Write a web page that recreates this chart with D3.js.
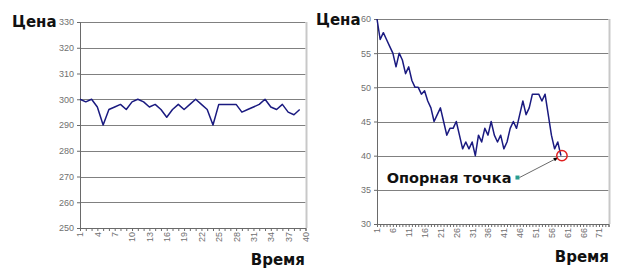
<!DOCTYPE html>
<meta charset="utf-8">
<style>
body { margin: 0; background: #fff; }
svg { display: block; }
.tick text { font-family: "Liberation Sans", Arial, sans-serif; font-size: 9px; fill: #707070; }
.title { font-family: "DejaVu Sans", Verdana, sans-serif; font-weight: bold; font-size: 15px; fill: #111; }
.grid line { stroke: #808080; stroke-width: 1.2; }
.price { fill: none; stroke: #1a1a80; stroke-width: 1.5; stroke-linejoin: round; }
</style>
<body>
<script src="https://cdn.jsdelivr.net/npm/d3@7"></script>
<script>

// ---------- data ----------
var leftTimes = d3.range(1, 41)
var leftTickLabels = [1, 4, 7, 10, 13, 16, 19, 22, 25, 28, 31, 34, 37, 40]
var leftYTicks = [250, 260, 270, 280, 290, 300, 310, 320, 330]
var leftPrices = [300, 299, 300, 297, 290, 296, 297, 298, 296, 299,
                  300, 299, 297, 298, 296, 293, 296, 298, 296, 298,
                  300, 298, 296, 290, 298, 298, 298, 298, 295, 296,
                  297, 298, 300, 297, 296, 298, 295, 294, 296]

var rightTimes = d3.range(1, 75)
var rightTickLabels = [1, 6, 11, 16, 21, 26, 31, 36, 41, 46, 51, 56, 61, 66, 71]
var rightYTicks = [30, 35, 40, 45, 50, 55, 60]
var rightPrices = [60, 57, 58, 57, 56, 55, 53, 55, 54, 52,
                   53, 51, 50, 50, 49, 49.5, 48, 47, 45, 46,
                   47, 45, 43, 44, 44, 45, 43, 41, 42, 41,
                   42, 40, 43, 42, 44, 43, 45, 43, 42, 43,
                   41, 42, 44, 45, 44, 46, 48, 46, 47, 49,
                   49, 49, 48, 49, 46, 43, 41, 42, 40]

var pivot = { time: 59, price: 40 }
var pivotLabel = { time: 45.3, price: 36.8, text: 'Опорная точка' }

// ---------- page ----------
var W = 625, H = 279
var svg = d3.select('body').append('svg').attr('width', W).attr('height', H)

svg.append('defs').append('marker')
    .attr('id', 'arrow')
    .attr('viewBox', '0 0 10 10')
    .attr('refX', 9).attr('refY', 5)
    .attr('markerWidth', 7).attr('markerHeight', 6)
    .attr('orient', 'auto')
  .append('path')
    .attr('d', 'M0,1 L10,5 L0,9 Z')
    .attr('fill', '#000')

function drawChart(opt) {
    var x = d3.scalePoint().domain(opt.times).range([opt.x0, opt.x1])
    var y = d3.scaleLinear().domain(d3.extent(opt.yTicks)).range([opt.y1, opt.y0])
    var g = svg.append('g')

    // gridlines
    g.append('g').attr('class', 'grid')
      .selectAll('line').data(opt.yTicks.slice(1)).enter().append('line')
        .attr('x1', opt.x0).attr('x2', opt.x1)
        .attr('y1', function (d) { return Math.round(y(d)) + 0.5 })
        .attr('y2', function (d) { return Math.round(y(d)) + 0.5 })

    // right border of plot area
    g.append('line')
        .attr('x1', opt.x1 + 1).attr('x2', opt.x1 + 1)
        .attr('y1', opt.y0).attr('y2', opt.y1)
        .attr('stroke', '#c8c8c8').attr('stroke-width', 2)

    // y axis
    var yAxis = g.append('g')
        .attr('transform', 'translate(' + opt.x0 + ',0)')
        .call(d3.axisLeft(y).tickValues(opt.yTicks).tickSize(3).tickPadding(3))
    yAxis.select('.domain').attr('stroke', '#6a6a6a')
    yAxis.selectAll('.tick line').attr('stroke', '#6a6a6a')

    // x axis: minor ticks every category, labels every few
    var xMinor = g.append('g')
        .attr('transform', 'translate(0,' + opt.y1 + ')')
        .call(d3.axisBottom(x).tickValues(opt.times).tickSize(3).tickFormat(''))
    xMinor.select('.domain').attr('stroke', '#6a6a6a')
    xMinor.selectAll('.tick line').attr('stroke', '#6a6a6a')

    var xLabels = g.append('g')
        .attr('transform', 'translate(0,' + opt.y1 + ')')
        .call(d3.axisBottom(x).tickValues(opt.tickLabels).tickSize(0))
    xLabels.select('.domain').remove()
    xLabels.selectAll('.tick text')
        .attr('transform', 'rotate(-90)')
        .attr('text-anchor', 'end')
        .attr('x', -4).attr('y', 0).attr('dy', '0.32em')

    // price line
    var line = d3.line()
        .x(function (d, i) { return x(opt.times[i]) })
        .y(function (d) { return y(d) })
    g.append('path').datum(opt.prices).attr('class', 'price').attr('d', line)

    // titles
    g.append('text').attr('class', 'title')
        .attr('x', opt.priceTitle[0]).attr('y', opt.priceTitle[1]).text('Цена')
    g.append('text').attr('class', 'title')
        .attr('text-anchor', 'end')
        .attr('x', opt.timeTitle[0]).attr('y', opt.timeTitle[1]).text('Время')

    return { x: x, y: y, g: g }
}

drawChart({
    times: leftTimes, tickLabels: leftTickLabels, yTicks: leftYTicks, prices: leftPrices,
    x0: 80, x1: 305.5, y0: 22, y1: 228,
    priceTitle: [12, 27], timeTitle: [305, 265]
})

var right = drawChart({
    times: rightTimes, tickLabels: rightTickLabels, yTicks: rightYTicks, prices: rightPrices,
    x0: 377, x1: 608.5, y0: 19, y1: 224,
    priceTitle: [316, 25], timeTitle: [609, 262]
})

// annotation
var px = right.x(pivot.time), py = right.y(pivot.price)
var lx = right.x(1) + (pivotLabel.time - 1) * right.x.step()
var ly = right.y(pivotLabel.price)

right.g.append('line')
    .attr('x1', lx + 2).attr('y1', ly)
    .attr('x2', px - 3).attr('y2', py + 2)
    .attr('stroke', '#444').attr('stroke-width', 0.8)
    .attr('marker-end', 'url(#arrow)')

right.g.append('rect')
    .attr('x', lx - 2).attr('y', ly - 2).attr('width', 4).attr('height', 4)
    .attr('fill', '#2a9d8f')

right.g.append('circle')
    .attr('cx', px + 1).attr('cy', py)
    .attr('r', 5.2)
    .attr('fill', 'none').attr('stroke', '#e02020').attr('stroke-width', 1.5)

right.g.append('text').attr('class', 'title')
    .attr('text-anchor', 'end')
    .attr('x', lx - 6).attr('y', ly + 5)
    .style('font-size', '14.5px')
    .text(pivotLabel.text)

</script>
</body>
